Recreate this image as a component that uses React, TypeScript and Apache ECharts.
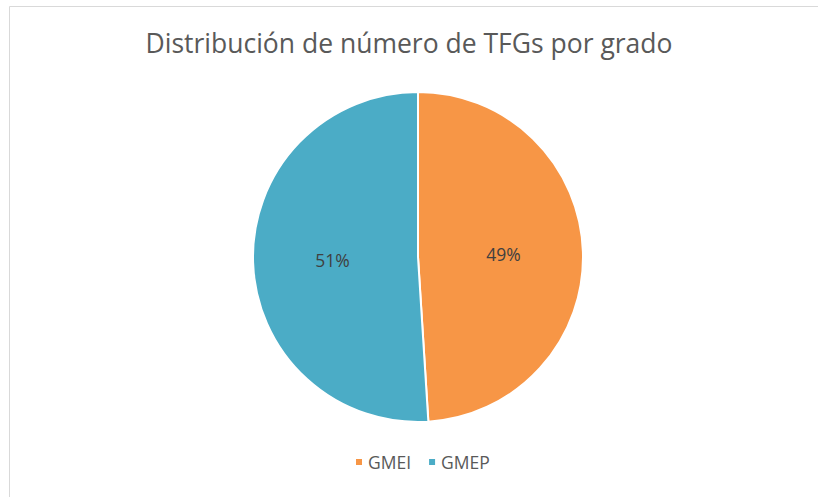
import React, { useEffect, useRef } from "react";
import * as echarts from "echarts";

const titleText = "Distribución de número de TFGs por grado";
const categories = ["GMEI", "GMEP"];
const values = [49, 51];
const colors = ["#F79646", "#4BACC6"];

export default function App() {
  const ref = useRef<HTMLDivElement>(null);
  useEffect(() => {
    const chart = echarts.init(ref.current!, null, { renderer: "svg" });
    chart.setOption({
      animation: false,
      backgroundColor: "#ffffff",
      title: {
        text: titleText,
        left: "center",
        top: 24,
        textStyle: { fontFamily: "Open Sans", fontSize: 26.5, fontWeight: "normal", color: "#595959" },
      },
      legend: {
        data: categories,
        bottom: 21,
        left: 349,
        icon: "rect",
        itemWidth: 8,
        itemHeight: 8,
        itemGap: 16,
        textStyle: { fontFamily: "Open Sans", fontSize: 17.5, color: "#595959", padding: [0, 0, 0, 0] },
      },
      graphic: [
        {
          type: "rect",
          shape: { x: 9.5, y: 6.5, width: 840, height: 520 },
          style: { fill: "none", stroke: "#d9d9d9", lineWidth: 1 },
          silent: true,
        },
      ],
      series: [
        {
          type: "pie",
          center: [418, 257],
          radius: [0, 165],
          startAngle: 90,
          clockwise: true,
          itemStyle: { borderColor: "#ffffff", borderWidth: 2 },
          label: {
            position: "inside",
            formatter: "{d}%",
            fontFamily: "Open Sans",
            fontSize: 17.5,
            color: "#404040",
          },
          labelLine: { show: false },
          data: categories.map((c, i) => ({ name: c, value: values[i], itemStyle: { color: colors[i] } })),
        },
      ],
    });
    return () => chart.dispose();
  }, []);
  return <div ref={ref} style={{ position: "fixed", left: 0, top: 0, width: 818, height: 497 }} />;
}
